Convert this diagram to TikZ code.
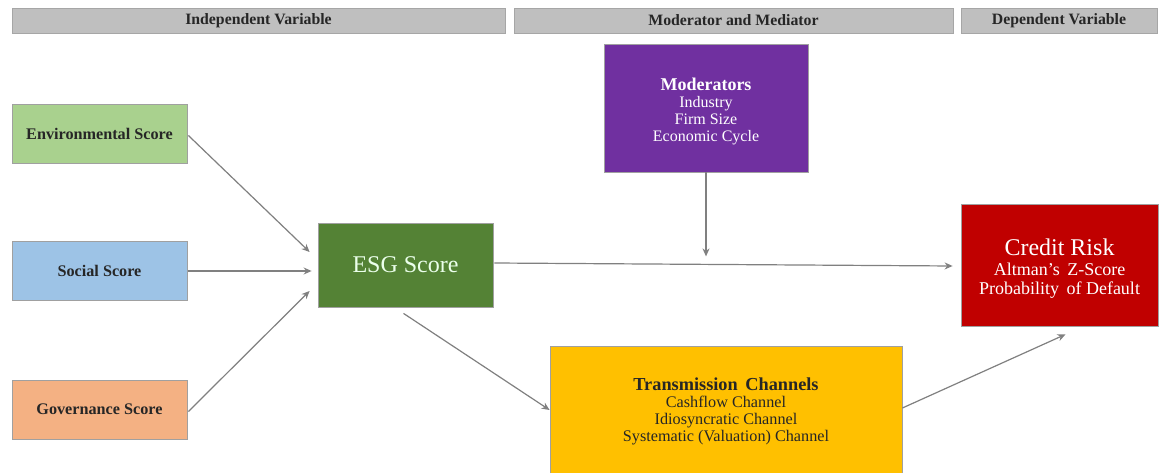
\documentclass[tikz,border=0pt]{standalone}
\usepackage{fontspec}
\setmainfont{Liberation Serif}
\usetikzlibrary{arrows.meta,calc}
\definecolor{hdr}{HTML}{BFBFBF}
\definecolor{hdrline}{HTML}{A6A6A6}
\definecolor{envc}{HTML}{A9D18E}
\definecolor{socc}{HTML}{9DC3E6}
\definecolor{govc}{HTML}{F4B183}
\definecolor{esgc}{HTML}{548235}
\definecolor{modc}{HTML}{7030A0}
\definecolor{crc}{HTML}{C00000}
\definecolor{trc}{HTML}{FFC000}
\definecolor{arr}{HTML}{808080}
\definecolor{edge}{HTML}{A0A0A0}
\tikzset{
  hbox/.style={draw=hdrline, fill=hdr, line width=0.8pt, inner sep=0pt, minimum height=25pt, font=\bfseries\fontsize{15.8}{17}\selectfont, text=black!85},
  box/.style={draw=edge, line width=0.8pt, inner sep=0pt, align=center},
  sbox/.style={box, minimum width=175pt, minimum height=59pt, font=\bfseries\fontsize{16.2}{17}\selectfont, text=black!85},
  conn/.style={draw=arr, line width=1.2pt, -{Stealth[length=8pt,width=7pt]}}
}
\begin{document}
\begin{tikzpicture}[x=1pt,y=-1pt]
\useasboundingbox (0,0) rectangle (1159,473);
\fill[white] (0,0) rectangle (1159,473);
% headers
\node[hbox, minimum width=493pt] (h1) at (258.5,20.5) {Independent Variable};
\node[hbox, minimum width=439pt] (h2) at (733.5,20.5) {Moderator and Mediator};
\node[hbox, minimum width=196pt] (h3) at (1059,20.5) {Dependent Variable};
% left boxes
\node[sbox, fill=envc] (env) at (99.5,133.5) {Environmental Score};
\node[sbox, fill=socc] (soc) at (99.5,271) {Social Score};
\node[sbox, fill=govc] (gov) at (99.5,409.5) {Governance Score};
% ESG
\node[box, fill=esgc, minimum width=175pt, minimum height=84pt, text=green!8!white, font=\fontsize{24}{26}\selectfont] (esg) at (405.5,265) {ESG Score};
% Moderators
\node[box, fill=modc, minimum width=204pt, minimum height=128pt, text=white, font=\fontsize{16}{17}\selectfont] (mod) at (706,108)
  {{\rule{0pt}{19pt}\bfseries\fontsize{18}{19}\selectfont Moderators}\\ Industry\\ Firm Size\\ Economic Cycle};
% Credit risk
\node[box, fill=crc, minimum width=197pt, minimum height=122pt, text=white, font=\fontsize{18}{19}\selectfont] (cr) at (1059.5,265)
  {{\rule{0pt}{24pt}\fontsize{24}{24}\selectfont Credit Risk}\\[1pt] Altman's\, Z-Score\\ Probability\, of Default};
% Transmission
\node[box, fill=trc, minimum width=352pt, minimum height=130pt, text=black!85, font=\fontsize{16.2}{17}\selectfont] (tr) at (726,411)
  {{\bfseries\fontsize{18.3}{19}\selectfont Transmission\, Channels}\\ Cashflow Channel\\ Idiosyncratic Channel\\ Systematic (Valuation) Channel};
% arrow end points
\coordinate (eA) at ($(env.east)+(1,2)$);
\coordinate (eB) at ($(esg.west)+(-8,-13)$);
\coordinate (sA) at ($(soc.east)+(1,0)$);
\coordinate (sB) at ($(esg.west)+(-6,6)$);
\coordinate (gA) at ($(gov.east)+(1,2)$);
\coordinate (gB) at ($(esg.west)+(-8,26)$);
\coordinate (xA) at ($(esg.east)+(1,-2)$);
\coordinate (xB) at ($(cr.west)+(-8,1)$);
\coordinate (mA) at (mod.south);
\coordinate (mB) at ($(mod.south)+(0,84)$);
\coordinate (tA) at ($(esg.south)+(-2,6)$);
\coordinate (tB) at ($(tr.west)+(0,-1)$);
\coordinate (rA) at ($(tr.east)+(0,-3)$);
\coordinate (rB) at ($(cr.south)+(6,8)$);
\draw[conn] (eA) -- (eB);
\draw[conn] (sA) -- (sB);
\draw[conn] (gA) -- (gB);
\draw[conn] (xA) -- (xB);
\draw[conn] (mA) -- (mB);
\draw[conn] (tA) -- (tB);
\draw[conn] (rA) -- (rB);
\end{tikzpicture}
\end{document}
